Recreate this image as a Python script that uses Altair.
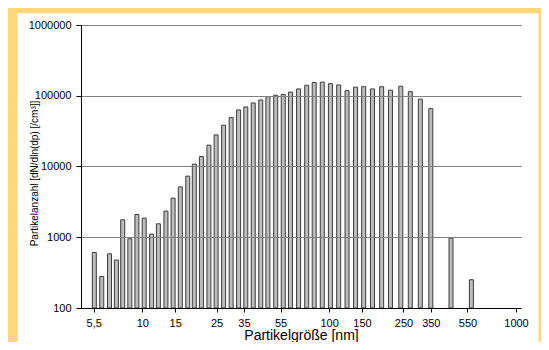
import altair as alt
import pandas as pd

# particle diameter (nm) of each bar and its count value
diam = [5.54, 6.07, 6.68, 7.27, 7.86, 8.58, 9.36, 10.24, 11.22, 12.2,
        13.39, 14.62, 15.98, 17.52, 18.99, 20.73, 22.74, 24.84, 27.25, 29.9,
        32.77, 35.82, 39.25, 43.06, 47.02, 51.78, 56.8, 62.1, 68.64, 75.86,
        83.2, 91.9, 101.6, 112.5, 124.7, 138.5, 153.1, 170.6, 191.0, 212.9,
        241.8, 271.9, 307.6, 350.1, 449, 577]
count = [610, 279, 584, 476, 1765, 951, 2097, 1865, 1108, 1549,
         2342, 3573, 5159, 7306, 10790, 13813, 20010, 27970, 38340, 49100,
         63030, 69500, 79160, 87300, 97140, 101700, 104300, 112460, 124800, 140750,
         154150, 155700, 148300, 142100, 118100, 132300, 134500, 124800, 134100, 120000,
         136200, 114300, 89560, 65770, 973, 251]

x_ticks = [5.5, 10, 15, 25, 35, 55, 100, 150, 250, 350, 550, 1000]
y_ticks = [100, 1000, 10000, 100000, 1000000]
x_title = "Partikelgröße [nm]"
y_title = "Partikelanzahl [dN/dln(dp) [/cm³]]"

W, H = 440, 283
FONT = "Liberation Sans"

df = pd.DataFrame({"d": diam, "n": count})
one = pd.DataFrame({"k": [0]})

panel = alt.Chart(one).mark_rect(color="white").encode(
    x=alt.value(-63.5), x2=alt.value(457.5), y=alt.value(-11.7), y2=alt.value(330)
)

bars = alt.Chart(df).mark_bar(size=4, fill="#bdbdbd", stroke="#3c3c3c", strokeWidth=1).encode(
    x=alt.X("d:Q",
            scale=alt.Scale(type="log", domain=[5, 1000], nice=False),
            axis=alt.Axis(values=x_ticks,
                          labelExpr="replace(format(datum.value, '~g'), '.', ',')",
                          title=x_title, grid=False, tickSize=4, labelPadding=5,
                          titleFontSize=14, titleFontWeight="normal",
                          titleY=31.5, titleBaseline="alphabetic",
                          zindex=1)),
    y=alt.Y("n:Q",
            scale=alt.Scale(type="log", domain=[100, 1000000], nice=False),
            axis=alt.Axis(values=y_ticks, format="d", title=y_title,
                          grid=True, gridColor="#808080", gridWidth=1,
                          tickSize=5, labelPadding=5,
                          titleFontSize=10, titleFontWeight="normal",
                          titleX=-47, titleY=148, titleAngle=-90,
                          titleAlign="center", titleBaseline="middle",
                          zindex=1)),
    y2=alt.datum(100),
)

chart = alt.layer(panel, bars).properties(
    width=W, height=H,
    padding={"left": 73, "top": 17, "right": 20, "bottom": 34},
    autosize=alt.AutoSizeParams(type="none"),
).configure(
    background="#FFD77A",
).configure_view(
    stroke="#404040", strokeWidth=1,
).configure_axis(
    labelFont=FONT, titleFont=FONT, labelFontSize=11, labelColor="black",
    titleColor="black", domainColor="black", tickColor="black",
)

chart.save("out.html", embed_options={"renderer": "svg", "actions": False})
